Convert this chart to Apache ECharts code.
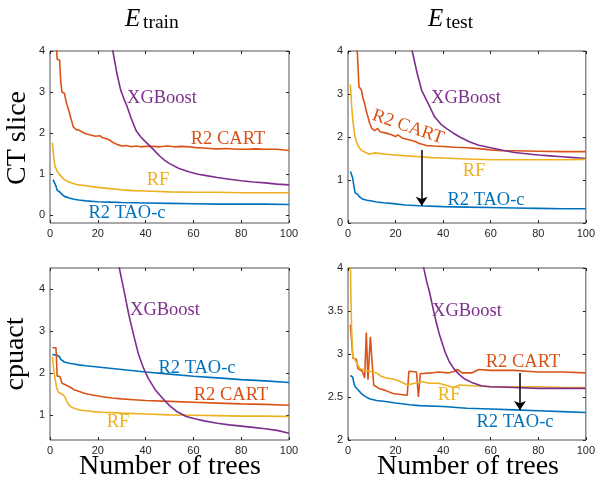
<!DOCTYPE html>
<html>
<head>
<meta charset="utf-8">
<script src="https://cdn.jsdelivr.net/npm/echarts@6/dist/echarts.min.js"></script>
<style>
  html, body { margin: 0; padding: 0; background: #fff; }
  #chart { width: 598px; height: 479px; }
</style>
</head>
<body>
<div id="chart"></div>
<script>
// [trees, error] pairs
var ctTrainCart = [[2.5,4.3],[3,3.8],[4,3.78],[4.5,3.25],[5,3.0],[6,2.97],[7,2.7],[7.5,2.62],[8.3,2.45],[9,2.3],[9.8,2.14],[11,2.08],[12,2.07],[13.5,2.02],[15,1.98],[17,1.95],[19,1.92],[21,1.93],[22,1.88],[24,1.85],[25,1.82],[26,1.78],[28,1.72],[30,1.68],[32,1.69],[34,1.66],[36,1.68],[38,1.66],[40,1.67],[43,1.67],[46,1.66],[49,1.68],[52,1.66],[55,1.67],[58,1.66],[61,1.64],[64,1.63],[67,1.62],[70,1.61],[74,1.62],[78,1.6],[82,1.6],[86,1.61],[90,1.6],[95,1.6],[100,1.57]];
var ctTrainXgb = [[20,7.5],[23,5.5],[26.3,4.0],[28,3.45],[29.6,3.04],[31,2.82],[32.1,2.67],[34,2.35],[36,2.06],[38,1.9],[40,1.78],[42,1.67],[44,1.55],[46,1.43],[48,1.33],[50,1.25],[54,1.13],[58,1.05],[62,0.99],[66,0.95],[70,0.91],[75,0.87],[80,0.83],[85,0.8],[90,0.78],[95,0.75],[100,0.73]];
var ctTrainRf = [[1,1.76],[1.5,1.45],[2,1.2],[3,1.06],[4,0.98],[5,0.92],[6,0.86],[8,0.8],[10,0.76],[12,0.73],[15,0.71],[20,0.67],[25,0.64],[30,0.61],[35,0.59],[40,0.58],[50,0.56],[60,0.55],[70,0.55],[80,0.54],[90,0.54],[100,0.54]];
var ctTrainTao = [[1.3,0.86],[2,0.85],[2.5,0.7],[3,0.6],[4,0.56],[5,0.5],[6,0.45],[8,0.41],[10,0.38],[12,0.36],[15,0.34],[20,0.32],[25,0.31],[30,0.3],[40,0.29],[50,0.28],[60,0.27],[70,0.26],[80,0.26],[90,0.26],[100,0.25]];

var ctTestCart = [[3.5,4.2],[4,3.9],[4.6,3.17],[5.3,3.15],[5.6,3.1],[6.3,2.9],[7,2.78],[7.7,2.6],[8.5,2.45],[9.1,2.32],[10,2.2],[11.2,2.15],[12.5,2.2],[13.5,2.12],[16,2.09],[18,2.06],[20,2.01],[21,2.05],[23,1.97],[26,1.93],[28,1.9],[30,1.85],[33,1.8],[36,1.79],[40,1.78],[45,1.76],[50,1.75],[55,1.73],[60,1.7],[65,1.68],[70,1.68],[80,1.67],[90,1.66],[100,1.66]];
var ctTestXgb = [[20,7.0],[24,5.0],[27,4.0],[29,3.5],[31,3.08],[33.7,2.78],[36.4,2.47],[39,2.3],[41.3,2.2],[44,2.1],[47,2.0],[51,1.89],[55,1.81],[60,1.75],[65,1.69],[70,1.64],[75,1.61],[80,1.58],[85,1.56],[90,1.54],[95,1.52],[100,1.5]];
var ctTestRf = [[1,3.22],[1.5,2.75],[2,2.4],[2.8,2.05],[3.5,1.89],[4.5,1.77],[5.5,1.7],[7,1.65],[9,1.6],[11,1.63],[13,1.62],[16,1.6],[20,1.58],[25,1.56],[30,1.54],[35,1.52],[40,1.51],[50,1.49],[60,1.47],[70,1.47],[80,1.47],[90,1.47],[100,1.48]];
var ctTestTao = [[1,1.2],[1.5,1.12],[2,1.04],[2.5,0.85],[3,0.7],[4,0.67],[5,0.6],[6,0.56],[8,0.53],[10,0.51],[12,0.49],[15,0.47],[19,0.45],[24,0.42],[30,0.4],[40,0.38],[50,0.37],[60,0.36],[70,0.35],[80,0.34],[90,0.33],[100,0.33]];

var cpTrainTao = [[1,2.44],[2,2.43],[3,2.42],[4,2.38],[4.5,2.32],[5,2.28],[6,2.26],[8,2.23],[10,2.21],[12,2.19],[15,2.17],[20,2.14],[25,2.11],[30,2.08],[35,2.05],[40,2.02],[50,1.97],[60,1.92],[70,1.88],[80,1.84],[90,1.81],[100,1.77]];
var cpTrainCart = [[1,2.6],[2.5,2.6],[2.8,2.2],[3,1.92],[4,1.92],[4.5,1.85],[5,1.75],[6,1.73],[7,1.7],[8,1.67],[9,1.64],[10,1.6],[12,1.56],[14,1.52],[16,1.49],[19,1.46],[22,1.43],[26,1.4],[30,1.38],[35,1.36],[40,1.34],[50,1.32],[60,1.3],[70,1.28],[80,1.26],[90,1.25],[100,1.23]];
var cpTrainRf = [[1,2.39],[1.5,2.1],[2,1.9],[2.8,1.64],[3.5,1.54],[4.2,1.5],[5.5,1.48],[6.3,1.42],[7,1.33],[7.7,1.25],[9,1.18],[11,1.14],[13,1.11],[16,1.09],[19,1.07],[22,1.06],[30,1.04],[40,1.02],[50,1.0],[60,0.99],[70,0.98],[80,0.97],[90,0.97],[100,0.96]];
var cpTrainXgb = [[24,6.5],[27,5.1],[29,4.5],[31,3.95],[33,3.38],[35,2.9],[37,2.45],[39,2.13],[41,1.88],[44,1.6],[47,1.4],[50,1.22],[53,1.08],[57,0.96],[61,0.9],[65,0.85],[70,0.8],[75,0.76],[80,0.73],[85,0.7],[90,0.67],[95,0.63],[100,0.56]];

var cpTestCart = [[1,3.34],[1.8,3.33],[2.1,2.95],[3.5,2.94],[4.2,2.83],[6,2.8],[7,2.72],[7.7,3.25],[8.4,2.7],[9.4,3.2],[10.8,2.64],[13,2.6],[15.4,2.58],[18.9,2.54],[22,2.53],[24.9,2.52],[25.6,2.8],[28.8,2.79],[29.6,2.5],[30.4,2.77],[35,2.78],[38,2.79],[42,2.78],[45,2.8],[46,2.82],[48,2.78],[52,2.78],[55,2.82],[60,2.81],[70,2.81],[75,2.8],[80,2.79],[90,2.79],[100,2.78]];
var cpTestRf = [[1,4.1],[1.2,3.7],[1.5,3.3],[2,2.97],[3,2.93],[4,2.88],[5,2.83],[7,2.81],[9,2.8],[12,2.78],[14,2.74],[16,2.72],[19,2.71],[20,2.7],[22,2.68],[25,2.64],[28,2.66],[31,2.68],[34,2.66],[38,2.66],[42,2.63],[44,2.61],[47,2.64],[52,2.63],[60,2.62],[70,2.62],[80,2.62],[90,2.61],[100,2.61]];
var cpTestTao = [[1,2.75],[2,2.73],[2.5,2.66],[3,2.62],[4,2.59],[5,2.56],[6,2.53],[7,2.51],[9,2.48],[12,2.46],[15,2.45],[20,2.43],[26,2.41],[30,2.4],[40,2.39],[50,2.37],[60,2.36],[70,2.35],[80,2.34],[90,2.33],[100,2.32]];
var cpTestXgb = [[27,5.5],[30,4.5],[31.7,4.02],[33,3.85],[34.2,3.73],[36,3.5],[37,3.38],[38.5,3.22],[39.8,3.11],[41,3.01],[42.6,2.91],[44.5,2.83],[46.8,2.76],[49,2.71],[52,2.67],[56,2.63],[60,2.62],[70,2.61],[80,2.6],[90,2.6],[100,2.6]];

// arrows: [trees, from, to]
var ctTestArrow = [31, 1.70, 0.40];
var cpTestArrow = [72.3, 2.78, 2.35];

var xTicks = [0, 20, 40, 60, 80, 100];
var yTicksCt = [0, 1, 2, 3, 4];
var yTicksCpTrain = [1, 2, 3, 4];
var yTicksCpTest = [2, 2.5, 3, 3.5, 4];

var C_TAO = '#0072BD', C_CART = '#D95319', C_RF = '#EDB120', C_XGB = '#7E2F8E';
var serif = '"Liberation Serif", "DejaVu Serif", serif';
var sans = '"Liberation Sans", Arial, sans-serif';

var chart = echarts.init(document.getElementById('chart'));

var grids = [
  { left: 50, top: 51, width: 239, height: 172 },
  { left: 348, top: 51, width: 239, height: 172 },
  { left: 50, top: 268, width: 239, height: 172 },
  { left: 348, top: 268, width: 239, height: 172 }
];
var yRanges = [[-0.2, 4, yTicksCt], [0, 4, yTicksCt], [0.4, 4.5, yTicksCpTrain], [2, 4, yTicksCpTest]];

var xAxes = [], yAxes = [];
grids.forEach(function (g, i) {
  g.show = true;
  g.borderColor = '#262626';
  g.borderWidth = 0.8;
  xAxes.push({
    type: 'value', gridIndex: i, min: 0, max: 100, position: 'bottom',
    axisLine: { show: false, onZero: false }, splitLine: { show: false },
    axisTick: { inside: true, length: 3, lineStyle: { color: '#262626' }, customValues: xTicks },
    axisLabel: { color: '#262626', fontFamily: sans, fontSize: 11, margin: 5, customValues: xTicks }
  });
  xAxes.push({
    type: 'value', gridIndex: i, min: 0, max: 100, position: 'top',
    axisLine: { show: false, onZero: false }, splitLine: { show: false }, axisLabel: { show: false },
    axisTick: { inside: true, length: 3, lineStyle: { color: '#262626' }, customValues: xTicks }
  });
  var r = yRanges[i];
  yAxes.push({
    type: 'value', gridIndex: i, min: r[0], max: r[1], position: 'left',
    axisLine: { show: false, onZero: false }, splitLine: { show: false },
    axisTick: { inside: true, length: 3, lineStyle: { color: '#262626' }, customValues: r[2] },
    axisLabel: { color: '#262626', fontFamily: sans, fontSize: 11, margin: 5, customValues: r[2] }
  });
  yAxes.push({
    type: 'value', gridIndex: i, min: r[0], max: r[1], position: 'right',
    axisLine: { show: false, onZero: false }, splitLine: { show: false }, axisLabel: { show: false },
    axisTick: { inside: true, length: 3, lineStyle: { color: '#262626' }, customValues: r[2] }
  });
});

function line(data, color, gi) {
  return {
    type: 'line', data: data, xAxisIndex: gi * 2, yAxisIndex: gi * 2,
    showSymbol: false, symbol: 'none', clip: true, silent: true,
    lineStyle: { color: color, width: 1.6 }
  };
}
function arrow(a, gi) {
  return {
    type: 'line', data: [], xAxisIndex: gi * 2, yAxisIndex: gi * 2,
    markLine: {
      silent: true, symbol: ['none', 'arrow'], symbolSize: 9,
      label: { show: false },
      lineStyle: { color: '#000', width: 1.5, type: 'solid' },
      data: [[{ coord: [a[0], a[1]] }, { coord: [a[0], a[2]] }]]
    }
  };
}

var series = [
  line(ctTrainCart, C_CART, 0), line(ctTrainXgb, C_XGB, 0), line(ctTrainRf, C_RF, 0), line(ctTrainTao, C_TAO, 0),
  line(ctTestCart, C_CART, 1), line(ctTestXgb, C_XGB, 1), line(ctTestRf, C_RF, 1), line(ctTestTao, C_TAO, 1),
  line(cpTrainTao, C_TAO, 2), line(cpTrainCart, C_CART, 2), line(cpTrainRf, C_RF, 2), line(cpTrainXgb, C_XGB, 2),
  line(cpTestCart, C_CART, 3), line(cpTestRf, C_RF, 3), line(cpTestTao, C_TAO, 3), line(cpTestXgb, C_XGB, 3),
  arrow(ctTestArrow, 1), arrow(cpTestArrow, 3)
];

function txt(s, x, y, color, font, extra) {
  var o = {
    type: 'text', x: x, y: y, silent: true, z: 10,
    style: { text: s, fill: color, font: (font || '18.5px') + ' ' + serif, align: 'center', verticalAlign: 'middle' }
  };
  if (extra) Object.keys(extra).forEach(function (k) { o[k] = extra[k]; });
  return o;
}
function ltxt(s, x, y, font) {
  return {
    type: 'text', x: x, y: y, silent: true,
    style: { text: s, fill: '#000', font: font + ' ' + serif, align: 'left', verticalAlign: 'middle' }
  };
}

var graphics = [
  // column titles
  ltxt('E', 125, 19.5, 'italic 25px'), ltxt('train', 143, 23, '19.5px'),
  ltxt('E', 428, 19.5, 'italic 25px'), ltxt('test', 446, 23, '19.5px'),
  // row names and x-axis names
  txt('CT slice', 18, 138, '#000', '28px', { rotation: Math.PI / 2 }),
  txt('cpuact', 16, 354, '#000', '28px', { rotation: Math.PI / 2 }),
  txt('Number of trees', 170, 467, '#000', '28px'),
  txt('Number of trees', 468, 467, '#000', '28px'),
  // in-plot labels
  txt('XGBoost', 162, 98, C_XGB), txt('R2 CART', 228, 139, C_CART), txt('RF', 158, 180, C_RF), txt('R2 TAO-c', 127, 213, C_TAO),
  txt('XGBoost', 466, 98, C_XGB), txt('R2 CART', 408, 127, C_CART, null, { rotation: -0.33 }), txt('RF', 474, 171, C_RF), txt('R2 TAO-c', 486, 200, C_TAO),
  txt('XGBoost', 165, 310, C_XGB), txt('R2 TAO-c', 197, 368, C_TAO), txt('R2 CART', 231, 395, C_CART), txt('RF', 118, 422, C_RF),
  txt('XGBoost', 467, 311, C_XGB), txt('R2 CART', 523, 362, C_CART), txt('RF', 449, 395, C_RF), txt('R2 TAO-c', 515, 422, C_TAO)
];

chart.setOption({
  animation: false,
  backgroundColor: '#fff',
  grid: grids,
  xAxis: xAxes,
  yAxis: yAxes,
  series: series,
  graphic: graphics
});
</script>
</body>
</html>
